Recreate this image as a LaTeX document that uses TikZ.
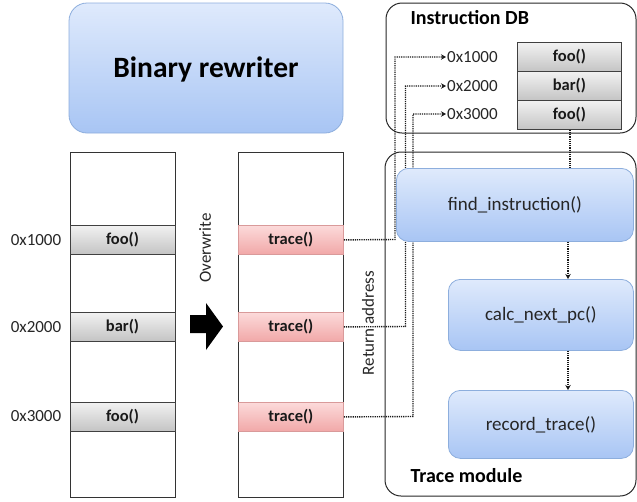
\documentclass[tikz,border=0pt]{standalone}
\usepackage{fontspec}
\setmainfont{Carlito}
\usetikzlibrary{arrows.meta}
\definecolor{bluetop}{HTML}{DFEAFC}
\definecolor{bluebot}{HTML}{A8C5F4}
\definecolor{blueedge}{HTML}{8DAEDD}
\definecolor{graytop}{HTML}{F2F2F2}
\definecolor{graybot}{HTML}{C4C4C4}
\definecolor{pinktop}{HTML}{FCDADA}
\definecolor{pinkbot}{HTML}{F1A8A8}
\definecolor{pinkedge}{HTML}{D99A9A}
\tikzset{
  x=1pt, y=-1pt,
  bluebox/.style={draw=blueedge, line width=0.8pt, rounded corners=12pt,
    top color=bluetop, bottom color=bluebot},
  memcol/.style={draw=black!80, line width=0.9pt},
  graycell/.style={draw=black!75, line width=0.8pt, top color=graytop, bottom color=graybot},
  pinkcell/.style={draw=pinkedge, line width=0.8pt, top color=pinktop, bottom color=pinkbot},
  group/.style={draw=black!85, line width=1pt, rounded corners=16pt},
  dotline/.style={line width=1.4pt, dash pattern=on 1.2pt off 1pt, black!90},
  dotarrow/.style={dotline, -{Stealth[length=5pt,width=5.5pt]}},
  celltext/.style={font=\bfseries\fontsize{16.5}{18}\selectfont, text=black!90},
  addr/.style={font=\fontsize{17}{19}\selectfont, text=black!85},
  title/.style={font=\bfseries\fontsize{20}{22}\selectfont},
  func/.style={font=\fontsize{19}{21}\selectfont, text=black!85},
}
\begin{document}
\begin{tikzpicture}
\useasboundingbox (0,0) rectangle (637,501);

% binary rewriter
\draw[bluebox, rounded corners=18pt] (69,3) rectangle (343,133);
\node[font=\bfseries\fontsize{29.5}{32}\selectfont] (rw) at (206,69) {Binary rewriter};

% original binary
\draw[memcol] (70,152) rectangle (175,497);
\draw[graycell] (70,225) rectangle (175,254);
\draw[graycell] (70,312) rectangle (175,341);
\draw[graycell] (70,402) rectangle (175,431);
\node[celltext] (o1) at (122.5,239.5) {foo()};
\node[celltext] (o2) at (122.5,326.5) {bar()};
\node[celltext] (o3) at (122.5,416.5) {foo()};
\node[addr] (a1) at (36,240) {0x1000};
\node[addr] (a2) at (36,327) {0x2000};
\node[addr] (a3) at (36,416) {0x3000};

% overwrite arrow
\node[addr, rotate=90] (ow) at (205,248) {Overwrite};
\fill[black] (190,315) -- (206,315) -- (206,303) -- (223,326.5) -- (206,350) -- (206,333) -- (190,333) -- cycle;

% rewritten binary
\draw[memcol] (238,152) rectangle (343,497);
\node[pinkcell, minimum width=105pt, minimum height=29pt, inner sep=0pt, anchor=north west] (t1) at (238,225) {};
\node[pinkcell, minimum width=105pt, minimum height=29pt, inner sep=0pt, anchor=north west] (t2) at (238,312) {};
\node[pinkcell, minimum width=105pt, minimum height=29pt, inner sep=0pt, anchor=north west] (t3) at (238,402) {};
\node[celltext] at (t1) {trace()};
\node[celltext] at (t2) {trace()};
\node[celltext] at (t3) {trace()};
\node[addr, rotate=90] (ra) at (368,323) {Return address};

% group frames
\draw[group] (386,3) rectangle (636,133);
\draw[group] (385,152) rectangle (636,496);
\node[title, anchor=west] (dbt) at (407,18) {Instruction DB};
\node[title, anchor=west] (tmt) at (407,476) {Trace module};

% instruction table
\node[graycell, minimum width=104pt, minimum height=29pt, inner sep=0pt, anchor=north west] (d1) at (517,42) {};
\node[graycell, minimum width=104pt, minimum height=29pt, inner sep=0pt, anchor=north west] (d2) at (517,71) {};
\node[graycell, minimum width=104pt, minimum height=29pt, inner sep=0pt, anchor=north west] (d3) at (517,100) {};
\node[celltext] at (d1) {foo()};
\node[celltext] at (d2) {bar()};
\node[celltext] at (d3) {foo()};
\node[addr, anchor=west, inner sep=1pt] (k1) at (446,57) {0x1000};
\node[addr, anchor=west, inner sep=1pt] (k2) at (446,86) {0x2000};
\node[addr, anchor=west, inner sep=1pt] (k3) at (446,114) {0x3000};

% return address links
\draw[dotarrow] (t1.east) -- (395,239.5) |- (k1.west);
\draw[dotarrow] (t2.east) -- (405.5,326.5) |- (k2.west);
\draw[dotarrow] (t3.east) -- (413,416.5) |- (k3.west);
\draw[dotline] (d3.south -| 570,0) -- (570,168);

% trace module functions
\node[bluebox, minimum width=237pt, minimum height=73pt, anchor=north west] (fi) at (396,168) {};
\node[func] at (fi) {find\_instruction()};
\node[bluebox, minimum width=185pt, minimum height=71pt, anchor=north west] (cn) at (448,279) {};
\node[func] at (cn) {calc\_next\_pc()};
\node[bluebox, minimum width=185pt, minimum height=68pt, anchor=north west] (rt) at (448,390) {};
\node[func] at (rt) {record\_trace()};
\draw[dotarrow] (fi.south -| 568,0) -- (cn.north -| 568,0);
\draw[dotarrow] (cn.south -| 568,0) -- (rt.north -| 568,0);
\end{tikzpicture}
\end{document}
